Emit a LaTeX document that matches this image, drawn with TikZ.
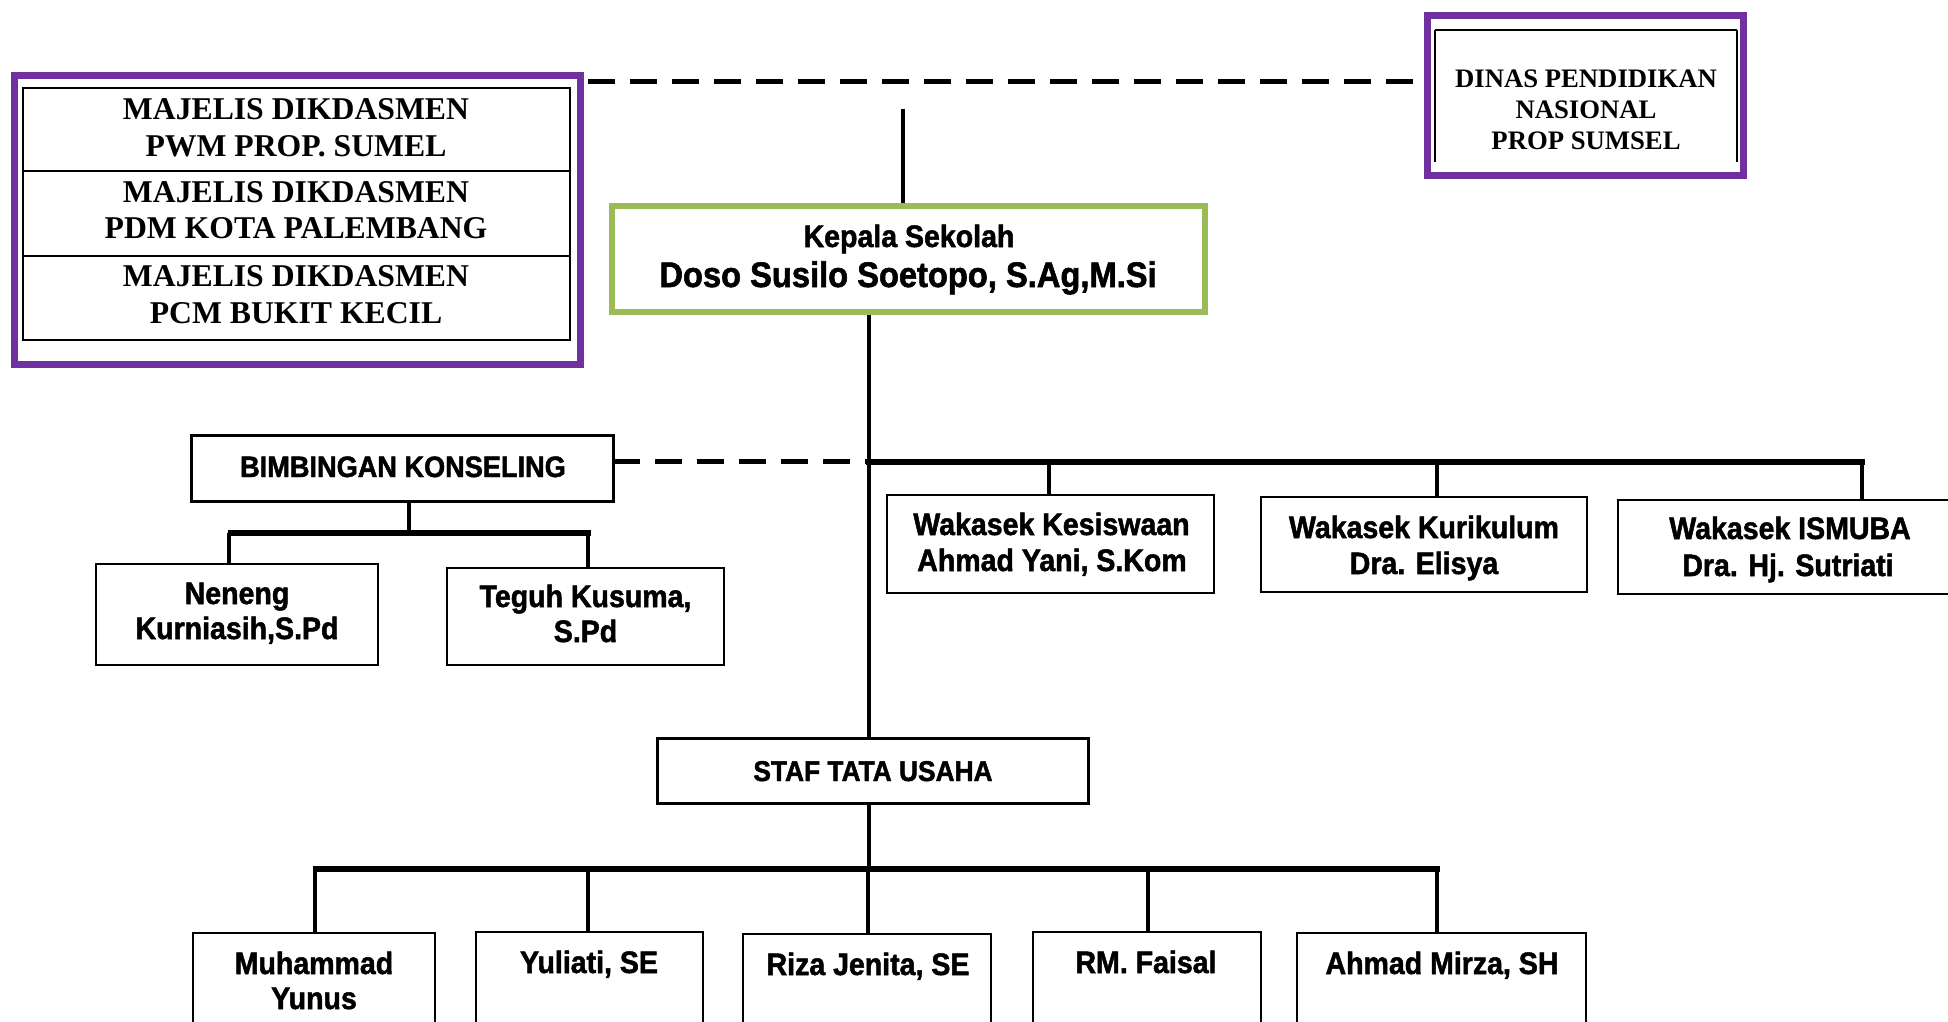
\documentclass[tikz,border=0pt]{standalone}
\usepackage{fontspec}
\setmainfont{Liberation Serif}
\newfontfamily\sansb[FakeStretch=0.92, BoldFeatures={FakeBold=1.6}]{Liberation Sans}
\definecolor{purp}{HTML}{7030A0}
\definecolor{grn}{HTML}{9BBB59}
\newcommand\mkbox[6]{%
  \node[#1, minimum width={#5-#3}, minimum height={#6-#4}] (#2) at ({(#3+#5)/2},{(#4+#6)/2}) {};}
\tikzset{
  lbl/.style={anchor=base, inner sep=0pt, outer sep=0pt},
  sf/.style={lbl, font=\sansb\bfseries\fontsize{#1}{#1}\selectfont},
  rm/.style={lbl, font=\rmfamily\bfseries\fontsize{#1}{#1}\selectfont},
  shp/.style={rectangle, inner sep=0pt, outer sep=0pt},
  purpbox/.style={shp, draw=purp, line width=7pt},
  grnbox/.style={shp, draw=grn, line width=5.5pt},
  tab/.style={shp, draw=black, line width=2.2pt},
  thickbox/.style={shp, draw=black, line width=3pt},
  thinbox/.style={shp, draw=black, line width=2pt},
  lowbox/.style={shp, draw=black, line width=1.8pt},
  conn/.style={line width=4pt},
  bar/.style={line width=5.5pt},
  dsh/.style={line width=5pt, dash pattern=on 27pt off 15pt},
}
\begin{document}
\begin{tikzpicture}[x=1pt, y=-1pt]
\useasboundingbox (0,0) rectangle (1948,1021);
\fill[white] (0,0) rectangle (1948,1021);

% ---------- boxes (geometry only) ----------
\mkbox{purpbox}{pl}{14.5}{75.5}{580.5}{364.5}
\mkbox{tab}{r1}{23}{88}{570}{171}
\mkbox{tab}{r2}{23}{171}{570}{256}
\mkbox{tab}{r3}{23}{256}{570}{340}
\mkbox{purpbox}{pd}{1427.5}{15.5}{1743.5}{175.5}
\mkbox{grnbox}{kp}{612}{206}{1205}{312}
\mkbox{thickbox}{bk}{191}{435}{613}{501}
\mkbox{thinbox}{n1}{96}{564}{378}{665}
\mkbox{thinbox}{n2}{447}{568}{724}{665}
\mkbox{thinbox}{w1}{887}{495}{1214}{593}
\mkbox{thinbox}{w2}{1261}{497}{1587}{592}
\mkbox{thinbox}{w3}{1618}{500}{1962}{594}
\mkbox{thickbox}{st}{657}{738}{1088}{803}
\mkbox{lowbox}{m1}{193}{933}{435}{1045}
\mkbox{lowbox}{m2}{476}{932}{703}{1045}
\mkbox{lowbox}{m3}{743}{934}{991}{1045}
\mkbox{lowbox}{m4}{1033}{932}{1261}{1045}
\mkbox{lowbox}{m5}{1297}{933}{1586}{1045}

% inner frame of the DINAS box (open at the bottom)
\coordinate (dl) at (1435,162);
\coordinate (dtl) at (1435,30);
\coordinate (dtr) at (1737,30);
\coordinate (dr) at (1737,162);
\draw[line width=1.5pt] (dl) -- (dtl);
\draw[line width=1.5pt] (dtr) -- (dr);
\draw[line width=2.5pt] (dtl) -- (dtr);

% ---------- helper coordinates ----------
\coordinate (tx) at (869,0);
\coordinate (td) at (588,81);
\coordinate (topend) at (903,109);
\coordinate (bkd) at (613,461);
\coordinate (wbL) at (866,462);
\coordinate (wbR) at (1865,462);
\coordinate (d1) at (1049,462);
\coordinate (d2) at (1437,462);
\coordinate (d3) at (1862,462);
\coordinate (bkb) at (409,533);
\coordinate (bbL) at (228,533);
\coordinate (bbR) at (591,533);
\coordinate (e1) at (228.5,533);
\coordinate (e2) at (588,533);
\coordinate (lbL) at (313,869);
\coordinate (lbR) at (1440,869);
\coordinate (f1) at (315,869);
\coordinate (f2) at (588,869);
\coordinate (f3) at (868,869);
\coordinate (f4) at (1148,869);
\coordinate (f5) at (1437,869);

% ---------- connectors ----------
\draw[dsh] (td) -- (td -| pd.west);
\draw[conn] (topend) -- (topend |- kp.north);
\draw[conn] (kp.south -| tx) -- (st.north -| tx);
\draw[dsh] (bkd) -- (bkd -| tx);
\draw[bar] (wbL) -- (wbR);
\draw[conn] (d1) -- (d1 |- w1.north);
\draw[conn] (d2) -- (d2 |- w2.north);
\draw[conn] (d3) -- (d3 |- w3.north);
\draw[conn] (bkb |- bk.south) -- (bkb);
\draw[bar] (bbL) -- (bbR);
\draw[conn] (e1) -- (e1 |- n1.north);
\draw[conn] (e2) -- (e2 |- n2.north);
\draw[conn] (st.south -| tx) -- (lbL -| tx);
\draw[bar] (lbL) -- (lbR);
\draw[conn] (f1) -- (f1 |- m1.north);
\draw[conn] (f2) -- (f2 |- m2.north);
\draw[conn] (f3) -- (f3 |- m3.north);
\draw[conn] (f4) -- (f4 |- m4.north);
\draw[conn] (f5) -- (f5 |- m5.north);

% redraw boxes on top of connector ends
\mkbox{purpbox}{plb}{14.5}{75.5}{580.5}{364.5}
\mkbox{purpbox}{pdb}{1427.5}{15.5}{1743.5}{175.5}
\mkbox{grnbox}{kpb}{612}{206}{1205}{312}

% ---------- texts ----------
\node[rm=31.7] (t1a) at (296,119) {MAJELIS DIKDASMEN};
\node[rm=31.7] (t1b) at (296,156) {PWM PROP. SUMEL};
\node[rm=31.7] (t2a) at (296,202) {MAJELIS DIKDASMEN};
\node[rm=31.7] (t2b) at (296,238) {PDM KOTA PALEMBANG};
\node[rm=31.7] (t3a) at (296,286) {MAJELIS DIKDASMEN};
\node[rm=31.7] (t3b) at (296,323) {PCM BUKIT KECIL};

\node[rm=26.7] (ta) at (1586,87) {DINAS PENDIDIKAN};
\node[rm=26.7] (tb) at (1586,118) {NASIONAL};
\node[rm=26.7] (tc) at (1586,149) {PROP SUMSEL};

\node[sf=31] (tk1) at (909,247) {Kepala Sekolah};
\node[sf=35.5] (tk2) at (908,287) {Doso Susilo Soetopo, S.Ag,M.Si};

\node[sf=29.5] (tbk) at (403,477) {BIMBINGAN KONSELING};
\node[sf=31] (tn1a) at (237,604) {Neneng};
\node[sf=31] (tn1b) at (237,639) {Kurniasih,S.Pd};
\node[sf=31] (tn2a) at (585.5,607) {Teguh Kusuma,};
\node[sf=31] (tn2b) at (585.5,642) {S.Pd};

\node[sf=31] (tw1a) at (1051.5,535) {Wakasek Kesiswaan};
\node[sf=31] (tw1b) at (1052,571) {Ahmad Yani, S.Kom};
\node[sf=31] (tw2a) at (1424,538) {Wakasek Kurikulum};
\node[sf=31] (tw2b) at (1424,574) {Dra. Elisya};
\node[sf=31] (tw3a) at (1790,539) {Wakasek ISMUBA};
\node[sf=31] (tw3b) at (1788,576) {Dra. Hj. Sutriati};

\node[sf=28.6] (tst) at (873,781) {STAF TATA USAHA};

\node[sf=31] (tm1a) at (314,974) {Muhammad};
\node[sf=31] (tm1b) at (314,1009) {Yunus};
\node[sf=31] (tm2) at (589,973) {Yuliati, SE};
\node[sf=31] (tm3) at (868,975) {Riza Jenita, SE};
\node[sf=31] (tm4) at (1146,973) {RM. Faisal};
\node[sf=31] (tm5) at (1442,974) {Ahmad Mirza, SH};
\end{tikzpicture}
\end{document}
